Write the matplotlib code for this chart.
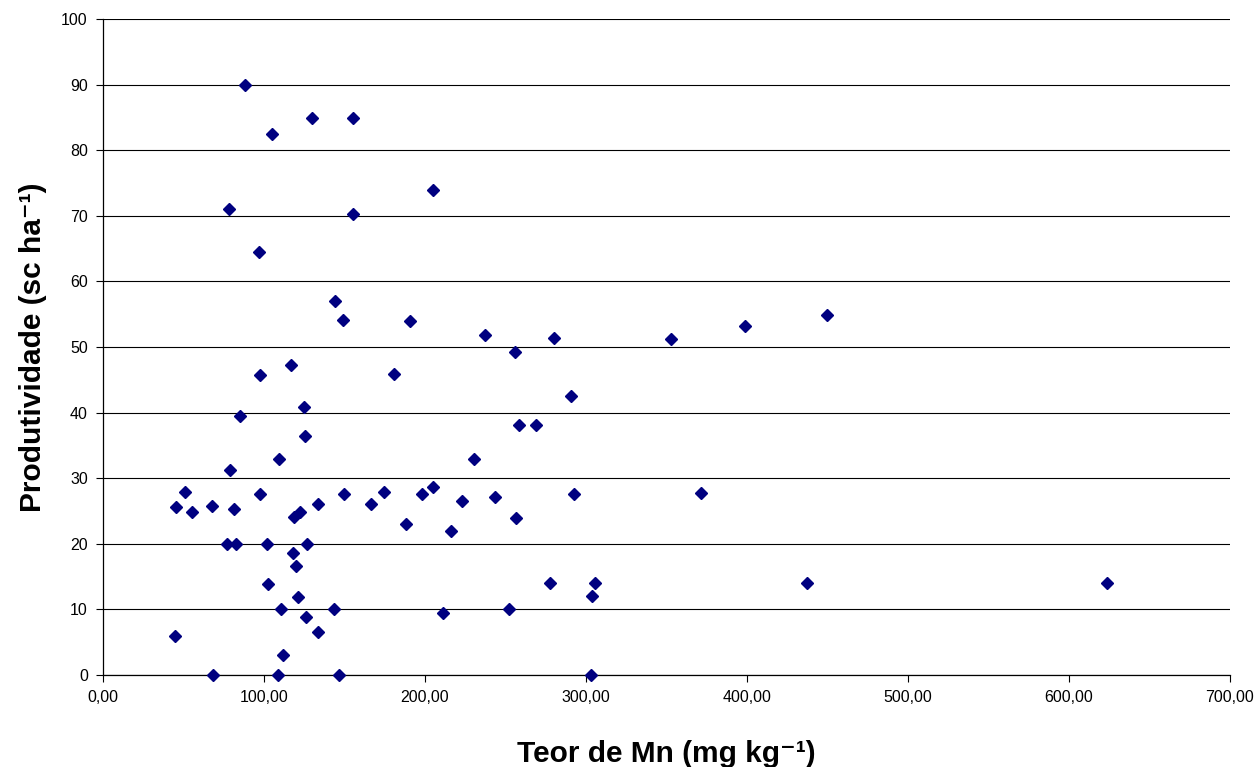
import matplotlib.pyplot as plt
from matplotlib.ticker import FuncFormatter, MultipleLocator

plt.rcParams['font.family'] = ['Liberation Sans', 'DejaVu Sans']

# Teor de Mn (mg/kg) x Produtividade (sc/ha)
teor_mn = [88.2, 104.8, 129.8, 155.3, 204.8, 78.0, 155.1, 97.1, 144.1, 149.3,
           190.7, 237.1, 255.9, 280.3, 352.8, 398.8, 449.5, 290.9, 258.6, 269.2,
           292.5, 371.3, 256.7, 116.6, 97.7, 180.7, 125.0, 85.3, 125.7, 109.5,
           230.4, 78.7, 50.9, 45.5, 55.5, 67.5, 81.4, 97.3, 118.6, 122.6,
           133.5, 149.9, 166.5, 174.5, 188.0, 198.1, 205.2, 216.1, 223.2, 243.7,
           77.0, 82.4, 101.7, 126.7, 117.8, 120.0, 102.3, 121.1, 110.4, 143.3,
           211.4, 252.4, 125.8, 133.7, 44.9, 111.6, 68.3, 108.9, 146.4, 277.9,
           305.8, 304.0, 437.3, 623.5, 302.9]
produtividade = [89.9, 82.5, 84.9, 84.9, 73.9, 71.0, 70.2, 64.5, 57.0, 54.1,
                 53.9, 51.9, 49.2, 51.3, 51.2, 53.2, 54.9, 42.5, 38.1, 38.1,
                 27.6, 27.8, 23.9, 47.3, 45.7, 45.9, 40.9, 39.5, 36.5, 32.9,
                 32.9, 31.3, 27.9, 25.6, 24.9, 25.8, 25.3, 27.6, 24.1, 24.9,
                 26.0, 27.6, 26.0, 27.9, 23.0, 27.6, 28.7, 22.0, 26.5, 27.2,
                 20.0, 20.0, 20.0, 20.0, 18.55, 16.6, 13.9, 11.9, 10.1, 10.0,
                 9.45, 10.0, 8.9, 6.55, 5.9, 3.0, 0.0, 0.0, 0.0, 14.0,
                 14.0, 12.0, 14.0, 14.0, 0.0]

fig = plt.figure(figsize=(12.58, 7.67), dpi=100)
ax = fig.add_axes([0.0819, 0.12, 0.8958, 0.8552])

ax.plot(teor_mn, produtividade, linestyle='none', marker='D', markersize=6.5,
        color='#000080', markeredgecolor='#000080', clip_on=False, zorder=3)

ax.set_xlim(0, 700)
ax.set_ylim(0, 100)
ax.xaxis.set_major_locator(MultipleLocator(100))
ax.yaxis.set_major_locator(MultipleLocator(10))
ax.xaxis.set_major_formatter(FuncFormatter(lambda v, p: f'{v:.2f}'.replace('.', ',')))
ax.yaxis.set_major_formatter(FuncFormatter(lambda v, p: f'{v:.0f}'))

# linhas de grade horizontais
ax.grid(axis='y', color='black', linewidth=0.8)
ax.set_axisbelow(True)
for s in ['top', 'right']:
    ax.spines[s].set_visible(False)
ax.spines['left'].set_linewidth(0.9)
ax.spines['bottom'].set_linewidth(0.9)
ax.tick_params(axis='both', direction='out', length=5, width=0.8, labelsize=11.5, pad=6)

ax.set_xlabel('Teor de Mn (mg kg\u207b\u00b9)', fontsize=21.5, fontweight='bold', labelpad=25)
ax.set_ylabel('Produtividade (sc ha\u207b\u00b9)', fontsize=21.5, fontweight='bold', labelpad=10)

fig.savefig('out.png', dpi=100)
